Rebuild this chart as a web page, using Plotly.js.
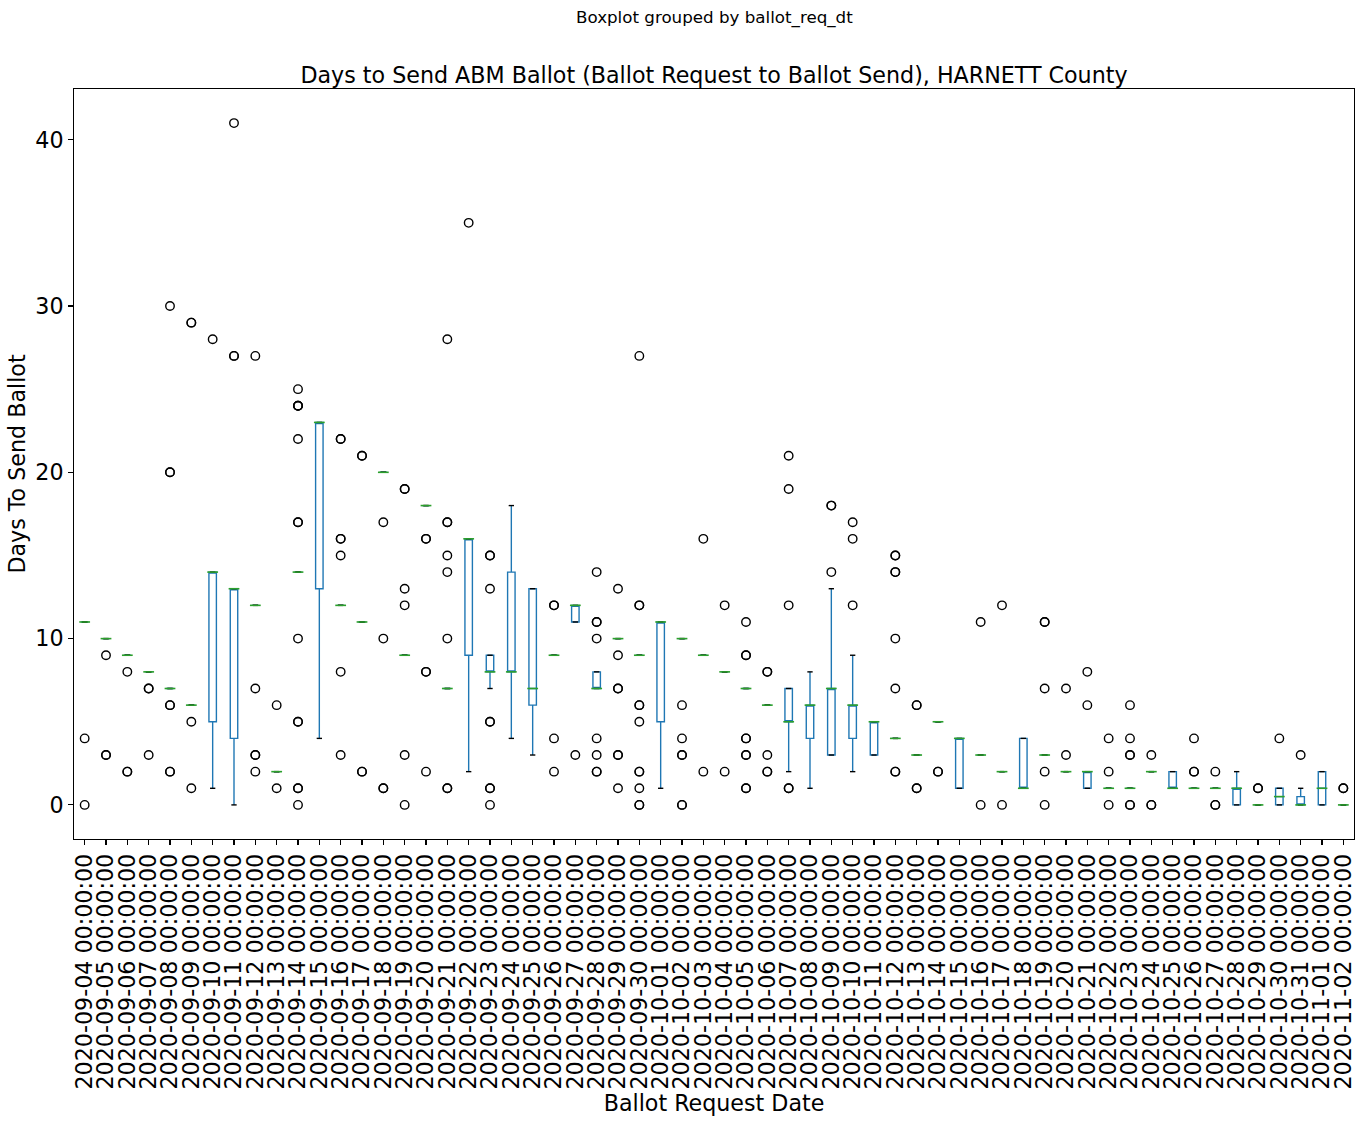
<!DOCTYPE html>
<html>
<head>
<meta charset="utf-8">
<script src="https://cdn.plot.ly/plotly-3.0.1.min.js"></script>
<style>html,body{margin:0;padding:0;background:#fff;}#chart{width:1363px;height:1122px;}</style>
</head>
<body>
<div id="chart"></div>
<script>
// ---- data ----
var dates = [
 "2020-09-04 00:00:00","2020-09-05 00:00:00","2020-09-06 00:00:00","2020-09-07 00:00:00","2020-09-08 00:00:00",
 "2020-09-09 00:00:00","2020-09-10 00:00:00","2020-09-11 00:00:00","2020-09-12 00:00:00","2020-09-13 00:00:00",
 "2020-09-14 00:00:00","2020-09-15 00:00:00","2020-09-16 00:00:00","2020-09-17 00:00:00","2020-09-18 00:00:00",
 "2020-09-19 00:00:00","2020-09-20 00:00:00","2020-09-21 00:00:00","2020-09-22 00:00:00","2020-09-23 00:00:00",
 "2020-09-24 00:00:00","2020-09-25 00:00:00","2020-09-26 00:00:00","2020-09-27 00:00:00","2020-09-28 00:00:00",
 "2020-09-29 00:00:00","2020-09-30 00:00:00","2020-10-01 00:00:00","2020-10-02 00:00:00","2020-10-03 00:00:00",
 "2020-10-04 00:00:00","2020-10-05 00:00:00","2020-10-06 00:00:00","2020-10-07 00:00:00","2020-10-08 00:00:00",
 "2020-10-09 00:00:00","2020-10-10 00:00:00","2020-10-11 00:00:00","2020-10-12 00:00:00","2020-10-13 00:00:00",
 "2020-10-14 00:00:00","2020-10-15 00:00:00","2020-10-16 00:00:00","2020-10-17 00:00:00","2020-10-18 00:00:00",
 "2020-10-19 00:00:00","2020-10-20 00:00:00","2020-10-21 00:00:00","2020-10-22 00:00:00","2020-10-23 00:00:00",
 "2020-10-24 00:00:00","2020-10-25 00:00:00","2020-10-26 00:00:00","2020-10-27 00:00:00","2020-10-28 00:00:00",
 "2020-10-29 00:00:00","2020-10-30 00:00:00","2020-10-31 00:00:00","2020-11-01 00:00:00","2020-11-02 00:00:00"
];
var q1 = [11,10,9,8,7,6,5,4,12,2, 14,13,12,11,20,9,18,7,9,8, 8,6,9,11,7,10,9,5,10,9,
          8,7,6,5,4,3,4,3,4,3, 5,1,3,2,1,3,2,1,1,1, 2,1,1,1,0,0,0,0,0,0];
var medians = [11,10,9,8,7,6,14,13,12,2, 14,23,12,11,20,9,18,7,16,8, 8,7,9,12,7,10,9,11,10,9,
          8,7,6,5,6,7,6,5,4,3, 5,4,3,2,1,3,2,2,1,1, 2,1,1,1,1,0,0.5,0,1,0];
var q3 = [11,10,9,8,7,6,14,13,12,2, 14,23,12,11,20,9,18,7,16,9, 14,13,9,12,8,10,9,11,10,9,
          8,7,6,7,6,7,6,5,4,3, 5,4,3,2,4,3,2,2,1,1, 2,2,1,1,1,0,1,0.5,2,0];
var whiskerLow = [11,10,9,8,7,6,1,0,12,2, 14,4,12,11,20,9,18,7,2,7, 4,3,9,11,7,10,9,1,10,9,
          8,7,6,2,1,3,2,3,4,3, 5,1,3,2,1,3,2,1,1,1, 2,1,1,1,0,0,0,0,0,0];
var whiskerHigh = [11,10,9,8,7,6,14,13,12,2, 14,23,12,11,20,9,18,7,16,9, 18,13,9,12,8,10,9,11,10,9,
          8,7,6,7,8,13,9,5,4,3, 5,4,3,2,4,3,2,2,1,1, 2,2,1,1,2,0,1,1,2,0];
var fliers = [
 [4,0],[9,3,3],[8,2,2],[7,7,3],[30,20,20,6,6,2,2],
 [29,29,5,1],[28],[41,27,27],[27,7,3,3,2],[6,1],
 [25,24,24,24,22,17,17,10,5,5,1,1,0],[],[22,22,16,16,15,8,3],[21,21,2,2],[17,10,1,1],
 [19,19,13,12,3,0],[16,16,8,8,2],[28,17,17,15,14,10,1,1],[35],[15,15,13,5,5,1,1,0],
 [],[],[12,12,4,2],[3],[14,11,11,10,4,3,2,2],
 [13,9,7,7,3,3,1],[27,12,12,6,6,5,2,2,1,0,0],[],[6,4,3,3,0,0],[16,2],
 [12,2],[11,9,9,4,4,3,3,1,1],[8,8,3,2,2],[21,19,12,1,1],[],
 [18,18,14],[17,16,12],[],[15,15,14,14,10,7,2,2],[6,6,1,1],
 [2,2],[],[11,0],[12,0],[],
 [11,11,7,2,0],[7,3],[8,6],[4,2,0],[6,4,3,3,0,0],
 [3,0,0],[],[4,2,2],[2,0,0],[],
 [1,1],[4],[3],[],[1,1]
];
var yTicks = [0,10,20,30,40];

// ---- build traces ----
var FONT = "DejaVu Sans, Liberation Sans, sans-serif";
var LW = 1.39;
var flierX = [], flierY = [];
fliers.forEach(function(arr, i){ arr.forEach(function(v){ flierX.push(dates[i]); flierY.push(v); }); });
var capX = dates.concat(dates), capY = whiskerLow.concat(whiskerHigh);

var traces = [
 {type:'box', x:dates, q1:q1, median:medians, q3:q3, lowerfence:whiskerLow, upperfence:whiskerHigh,
  line:{color:'#1f77b4', width:LW}, fillcolor:'rgba(0,0,0,0)', whiskerwidth:0, boxpoints:false,
  hoverinfo:'skip', showlegend:false},
 {type:'scatter', mode:'markers', x:capX, y:capY, hoverinfo:'skip', showlegend:false,
  marker:{symbol:'line-ew', size:3.8, color:'black', line:{color:'black', width:LW}}},
 {type:'scatter', mode:'markers', x:dates, y:medians, hoverinfo:'skip', showlegend:false,
  marker:{symbol:'line-ew', size:7.7, color:'#2ca02c', line:{color:'#2ca02c', width:1.6}}},
 {type:'scatter', mode:'markers', x:flierX, y:flierY, hoverinfo:'skip', showlegend:false,
  marker:{symbol:'circle-open', size:8.5, color:'black', line:{color:'black', width:LW}}}
];

var layout = {
 width:1363, height:1122, autosize:false,
 margin:{l:74, r:9, t:89, b:283, pad:0},
 paper_bgcolor:'#fff', plot_bgcolor:'#fff',
 font:{family:FONT, color:'#000', size:16},
 showlegend:false, boxgap:0.5, boxmode:'overlay',
 title:{text:'Days to Send ABM Ballot (Ballot Request to Ballot Send), HARNETT County',
        font:{family:FONT, size:22.2, color:'#000'}, x:0.5, xref:'paper', xanchor:'center',
        y:1-75/1122, yref:'container', yanchor:'middle'},
 annotations:[{text:'Boxplot grouped by ballot_req_dt', xref:'paper', yref:'paper', x:0.5, y:(839-18)/750,
        xanchor:'center', yanchor:'middle', showarrow:false, font:{family:FONT, size:16.7, color:'#000'}}],
 xaxis:{type:'category', range:[-0.5, 59.5], tickmode:'array', tickvals:dates, ticktext:dates,
        tickangle:-90, ticks:'outside', ticklen:4.9, tickwidth:1.1,
        tickcolor:'#000', showline:true, mirror:true, linecolor:'#000', linewidth:1.1, showgrid:false,
        zeroline:false, tickfont:{family:FONT, size:22.2, color:'#000'}, fixedrange:true,
        title:{text:'Ballot Request Date', font:{family:FONT, size:22.2, color:'#000'}, standoff:4}},
 yaxis:{range:[-2.05, 43.05], tickvals:yTicks, ticktext:yTicks.map(String), ticks:'outside', ticklen:4.9,
        tickwidth:1.1, tickcolor:'#000', showline:true, mirror:true, linecolor:'#000', linewidth:1.1,
        showgrid:false, zeroline:false, tickfont:{family:FONT, size:22.2, color:'#000'}, fixedrange:true,
        title:{text:'Days To Send Ballot', font:{family:FONT, size:22.2, color:'#000'}, standoff:3}}
};
Plotly.newPlot('chart', traces, layout, {displayModeBar:false, staticPlot:true});
</script>
</body>
</html>
